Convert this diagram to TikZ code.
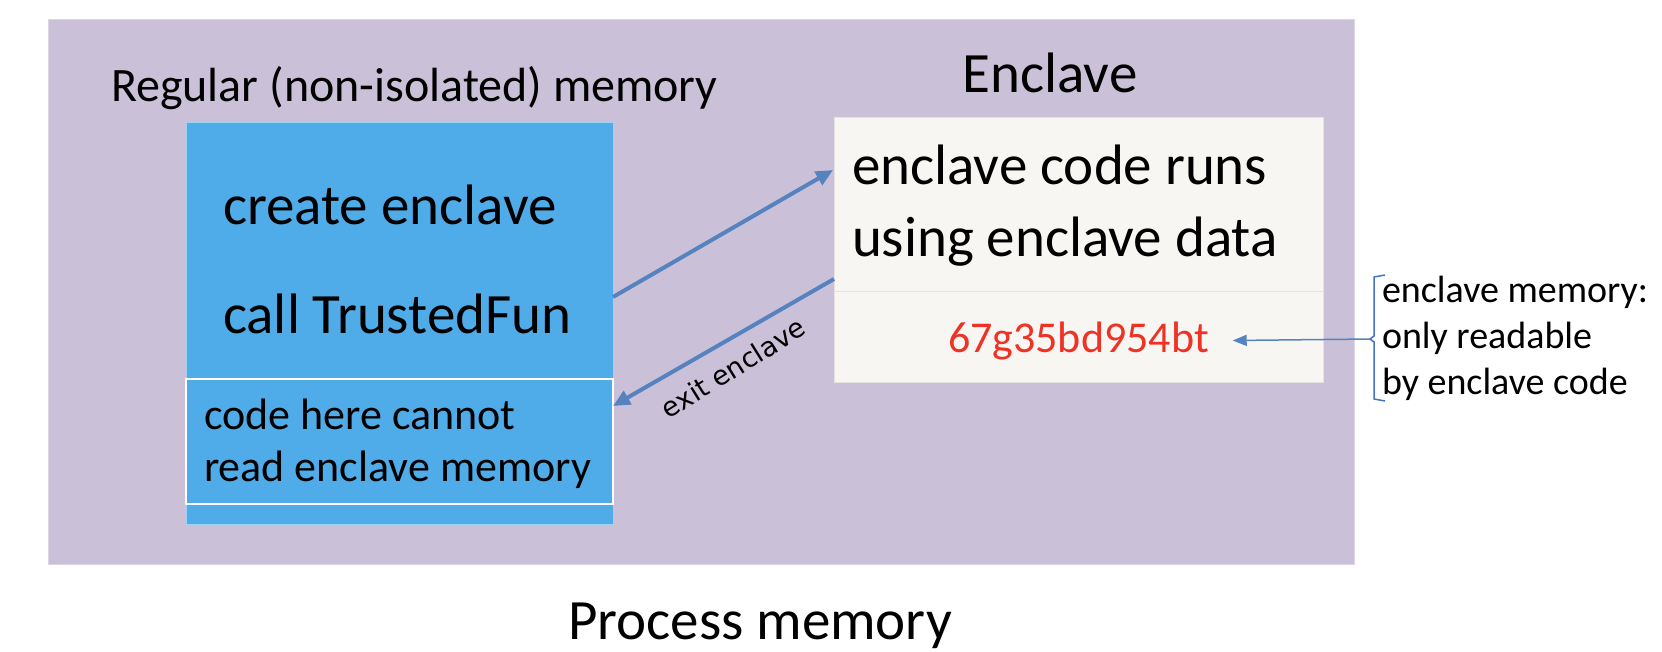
\documentclass[tikz,border=0pt]{standalone}
\usepackage{fontspec}
\setmainfont{Carlito}
\newfontfamily\dejavu{DejaVu Sans}
\usetikzlibrary{arrows.meta}
\definecolor{procbg}{HTML}{CAC0D8}
\definecolor{procedge}{HTML}{DCD6E4}
\definecolor{regblue}{HTML}{4FACE8}
\definecolor{regedge}{HTML}{9CD3F3}
\definecolor{enclbg}{HTML}{F7F6F3}
\definecolor{encledge}{HTML}{E6E3DE}
\definecolor{secretred}{HTML}{EE3224}
\definecolor{arrowblue}{HTML}{5683C0}
\definecolor{bracketblue}{HTML}{4472C4}
\newcommand\fsz[2]{\fontsize{#1}{#2}\selectfont}
\tikzset{
  box/.style={anchor=north west, inner sep=0, outer sep=0},
  txt/.style={anchor=base west, inner sep=0, outer sep=0, align=left},
  bigarrow/.style={draw=arrowblue, line width=4pt, -{Triangle[length=17pt,width=15pt]}},
  thinarrow/.style={draw=arrowblue, line width=1.5pt, -{Triangle[length=14pt,width=11pt]}},
}
\begin{document}
\begin{tikzpicture}[x=1pt,y=-1pt]
\useasboundingbox (0,0) rectangle (1662,652);
% process memory area
\node[box, draw=procedge, line width=1pt, fill=procbg, minimum width=1306pt, minimum height=544pt] (proc) at (48,20) {};
% regular memory block
\node[box, draw=regedge, line width=1pt, fill=regblue, minimum width=427pt, minimum height=401pt] (regular) at (186,123) {};
\node[box, draw=white, line width=2pt, minimum width=427pt, minimum height=125pt] (nocode) at (186,379) {};
% enclave block
\node[box, draw=encledge, line width=1pt, fill=enclbg, minimum width=489pt, minimum height=264pt] (enclave) at (834,118) {};
\draw[encledge, line width=1pt] (enclave.west |- 0,292) -- (enclave.east |- 0,292);
% texts
\node[txt, font=\fsz{48}{58}] (reglabel) at (111,102) {Regular (non-isolated) memory};
\node[anchor=base, inner sep=0, font=\fsz{57}{68}] (encllabel) at (1050,93) {Enclave};
\node[txt, font=\fsz{57}{68}] (create) at (223,225) {create enclave};
\node[txt, font=\fsz{57}{68}] (call) at (223,334) {call TrustedFun};
\node[txt, font=\fsz{44}{52}] (cannot) at (204,481) {code here cannot\\read enclave memory};
\node[txt, font=\fsz{57}{72}] (runs) at (852,257) {enclave code runs\\using enclave data};
\node[txt, font=\fsz{44}{52}, text=secretred] (secret) at (948,352) {67g35bd954bt};
\node[txt, font=\fsz{38}{46}] (note) at (1382,394) {enclave memory:\\only readable\\by enclave code};
\node[anchor=base, inner sep=0, font=\fsz{57}{68}] (proclabel) at (760,639) {Process memory};
% arrows
\coordinate (callout) at (613,297);
\coordinate (enterin) at (833,170);
\coordinate (exitout) at (834,279);
\coordinate (exitin) at (613,406);
\draw[bigarrow] (callout) -- (enterin);
\draw[bigarrow] (exitout) -- (exitin);
\node[rotate=32, inner sep=0, font=\dejavu\fsz{27}{32}] (exitlabel) at (733,368) {exit enclave};
% bracket
\coordinate (brk) at (1370,339);
\draw[bracketblue, line width=1.5pt] (1385,275) -- (1374,277) -- (1374,336) -- (brk) -- (1374,342) -- (1374,399) -- (1385,401);
\draw[thinarrow] (brk) -- ([xshift=24pt]secret.east);
\end{tikzpicture}
\end{document}
